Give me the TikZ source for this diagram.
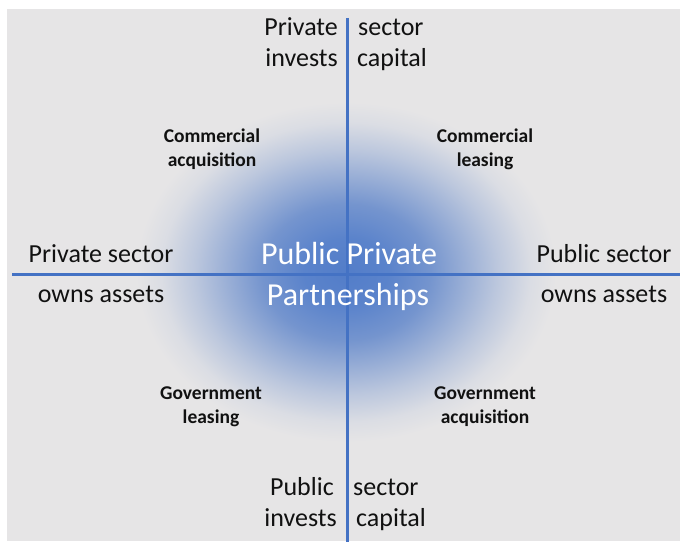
\documentclass[tikz,border=0pt]{standalone}
\usepackage{fontspec}
\setmainfont{Carlito}

\definecolor{panel}{HTML}{E6E5E6}
\definecolor{axisblue}{HTML}{4472C4}
\definecolor{ink}{HTML}{111111}

% soft blue halo behind the title (25bp = edge of the shaded path)
\pgfdeclareradialshading{pppglow}{\pgfpoint{0bp}{0bp}}{%
  color(0bp)=(axisblue!92!white);
  color(5bp)=(axisblue!88!white);
  color(10bp)=(axisblue!70!panel);
  color(14bp)=(axisblue!48!panel);
  color(18bp)=(axisblue!26!panel);
  color(22bp)=(axisblue!7!panel);
  color(25bp)=(panel);
  color(50bp)=(panel)}

\tikzset{
  axisline/.style={draw=axisblue, line width=3pt},
  sidelabel/.style={font=\fontsize{26}{31}\selectfont, text=ink, inner sep=0pt},
  quadlabel/.style={font=\bfseries\fontsize{19.5}{23}\selectfont, text=ink, inner sep=0pt},
  titlelabel/.style={font=\fontsize{32}{38}\selectfont, text=white, inner sep=0pt}
}

\begin{document}
\begin{tikzpicture}[x=1pt, y=-1pt]
  \useasboundingbox (0,0) rectangle (680,548);
  \fill[white] (0,0) rectangle (680,548);
  \fill[panel] (7,9) rectangle (680,541);

  % halo
  \shade[shading=pppglow] (346,272) ellipse [x radius=210, y radius=170];

  % axes
  \coordinate (axtop) at (347,18);
  \coordinate (axbot) at (347,542);
  \coordinate (axleft) at (12,274);
  \coordinate (axright) at (680,274);
  \draw[axisline] (axtop) -- (axbot);
  \draw[axisline] (axleft) -- (axright);

  % top
  \node[sidelabel, anchor=base east] (tl1) at (338,36) {Private};
  \node[sidelabel, anchor=base west] (tr1) at (358,36) {sector};
  \node[sidelabel, anchor=base east] (tl2) at (338,67) {invests};
  \node[sidelabel, anchor=base west] (tr2) at (357,67) {capital};

  % bottom
  \node[sidelabel, anchor=base east] (bl1) at (334,495) {Public};
  \node[sidelabel, anchor=base west] (br1) at (353,495) {sector};
  \node[sidelabel, anchor=base east] (bl2) at (337,526) {invests};
  \node[sidelabel, anchor=base west] (br2) at (356,526) {capital};

  % left and right
  \node[sidelabel, anchor=base] (lf1) at (101,262) {Private sector};
  \node[sidelabel, anchor=base] (lf2) at (101,302) {owns assets};
  \node[sidelabel, anchor=base] (rt1) at (604,262) {Public sector};
  \node[sidelabel, anchor=base] (rt2) at (604,302) {owns assets};

  % quadrants
  \node[quadlabel, anchor=base] (q1a) at (212,143) {Commercial};
  \node[quadlabel, anchor=base] (q1b) at (212,167) {acquisition};
  \node[quadlabel, anchor=base] (q2a) at (485,143) {Commercial};
  \node[quadlabel, anchor=base] (q2b) at (485,167) {leasing};
  \node[quadlabel, anchor=base] (q3a) at (211,399) {Government};
  \node[quadlabel, anchor=base] (q3b) at (211,423) {leasing};
  \node[quadlabel, anchor=base] (q4a) at (485,399) {Government};
  \node[quadlabel, anchor=base] (q4b) at (485,423) {acquisition};

  % title
  \node[titlelabel, anchor=base] (t1) at (349,265) {Public Private};
  \node[titlelabel, anchor=base] (t2) at (348,305) {Partnerships};
\end{tikzpicture}
\end{document}
